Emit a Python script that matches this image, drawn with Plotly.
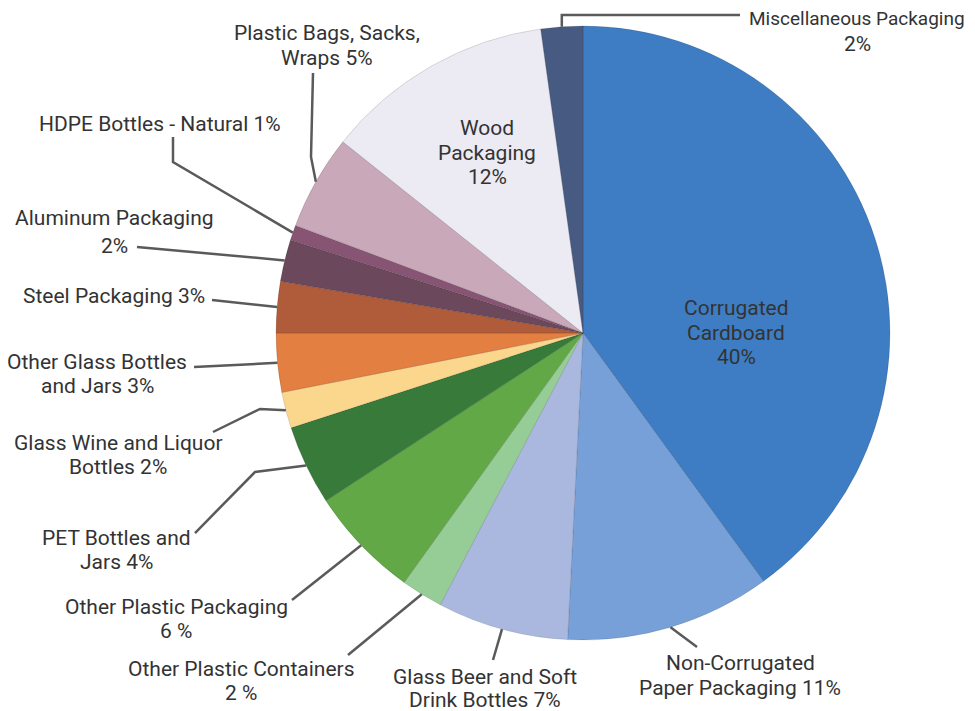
import math
import plotly.graph_objects as go

# ---- data (clockwise from 12 o'clock) ----
categories = [
    "Corrugated Cardboard", "Non-Corrugated Paper Packaging",
    "Glass Beer and Soft Drink Bottles", "Other Plastic Containers",
    "Other Plastic Packaging", "PET Bottles and Jars",
    "Glass Wine and Liquor Bottles", "Other Glass Bottles and Jars",
    "Steel Packaging", "Aluminum Packaging", "HDPE Bottles - Natural",
    "Plastic Bags, Sacks, Wraps", "Wood Packaging", "Miscellaneous Packaging",
]
values = [40.0, 10.8, 6.9, 2.2, 5.9, 4.2, 1.9, 3.1, 2.7, 2.2, 0.8, 5.0, 12.1, 2.2]
label_lines = [
    ["Corrugated", "Cardboard", "40%"],
    ["Non-Corrugated", "Paper Packaging 11%"],
    ["Glass Beer and Soft", "Drink Bottles 7%"],
    ["Other Plastic Containers", "2 %"],
    ["Other Plastic Packaging", "6 %"],
    ["PET Bottles and", "Jars 4%"],
    ["Glass Wine and Liquor", "Bottles 2%"],
    ["Other Glass Bottles", "and Jars 3%"],
    ["Steel Packaging 3%"],
    ["Aluminum Packaging", "2%"],
    ["HDPE Bottles - Natural 1%"],
    ["Plastic Bags, Sacks,", "Wraps 5%"],
    ["Wood", "Packaging", "12%"],
    ["Miscellaneous Packaging", "2%"],
]
colors = [
    "#3e7dc3", "#76a0d7", "#aab8e0", "#96cd96", "#62a846", "#377a3a",
    "#fad78c", "#e47f42", "#b05c3a", "#6b485c", "#875573", "#c8a8b9",
    "#eceaf2", "#465a82",
]

# ---- layout geometry (pixels, as seen in the page) ----
W, H = 975, 711
OFF = 8  # page body margin
CX, CY, R = 583, 333, 307

def px(x):
    return (x - OFF) / W

def py(y):
    return 1 - (y - OFF) / H

# label placement: center x and y of each line
label_pos = [
    (736, [308, 333, 357]),
    (740, [663, 688]),
    (485, [677, 700]),
    (241, [669, 693]),
    (176, [607, 631]),
    (116, [538, 562]),
    (118, [443, 467]),
    (97, [362, 386]),
    (114, [296]),
    (114, [218, 246]),
    (160, [124]),
    (327, [33, 58]),
    (487, [128, 153, 177]),
    (857, [18, 44]),
]
leader_elbows = [
    None,
    [(697, 647)],
    [(493, 660)],
    [(348, 655)],
    [(292, 600)],
    [(195, 533), (255, 472)],
    [(213, 432), (260, 409)],
    [(194, 367)],
    [(212, 300)],
    [(137, 247)],
    [(173, 137), (173, 162)],
    [(313, 73), (311, 157)],
    None,
    [(740, 15), "vert"],
]

fig = go.Figure(go.Pie(
    labels=categories,
    values=values,
    sort=False,
    direction="clockwise",
    rotation=0,
    marker=dict(colors=colors, line=dict(color="rgba(0,0,0,0.12)", width=1)),
    textinfo="none",
    hoverinfo="label+percent",
    domain=dict(x=[px(CX - R), px(CX + R)], y=[py(CY + R), py(CY - R)]),
    showlegend=False,
))

total = sum(values)
cum = 0.0
shapes = []
annotations = []
for i, v in enumerate(values):
    mid = (cum + v / 2) / total * 2 * math.pi
    cum += v
    ex = CX + R * math.sin(mid)
    ey = CY - R * math.cos(mid)
    lx, lys = label_pos[i]
    for line, ly in zip(label_lines[i], lys):
        size = 19 if len(line) > 22 and i == 13 else 21
        annotations.append(dict(
            x=px(lx), y=py(ly), xref="paper", yref="paper",
            text=line, showarrow=False, align="center",
            xanchor="center", yanchor="middle",
            font=dict(family="Roboto, Open Sans, sans-serif", size=size,
                      color="#333333"),
        ))
    el = leader_elbows[i]
    if el is None:
        continue
    pts = []
    for p in el:
        if p == "vert":
            pts.append((ex, pts[-1][1]))
        else:
            pts.append(p)
    pts.append((ex, ey))
    path = "M " + " L ".join(f"{px(x):.5f},{py(y):.5f}" for x, y in pts)
    shapes.append(dict(type="path", path=path, xref="paper", yref="paper",
                       line=dict(color="#5a5a5a", width=2.5)))

fig.update_layout(
    width=W, height=H,
    margin=dict(l=0, r=0, t=0, b=0),
    paper_bgcolor="white", plot_bgcolor="white",
    shapes=shapes, annotations=annotations,
)
fig.write_html("out.html")
